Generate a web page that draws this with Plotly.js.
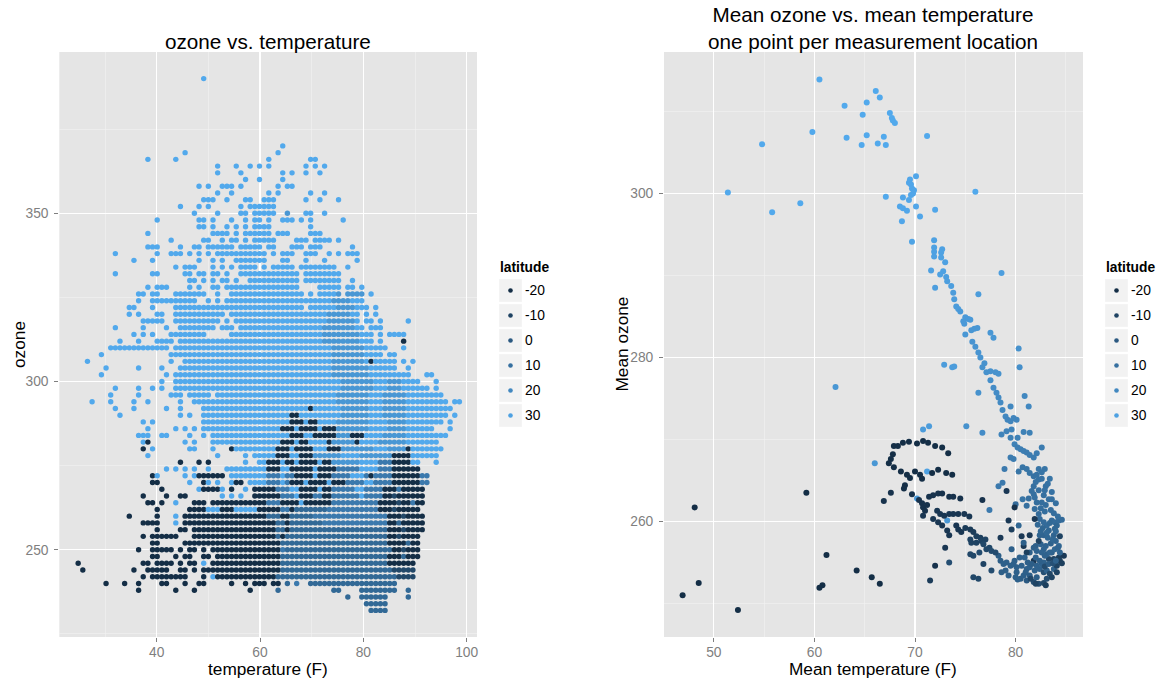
<!DOCTYPE html>
<html>
<head>
<meta charset="utf-8">
<script src="https://cdn.plot.ly/plotly-3.0.1.min.js"></script>
<style>html,body{margin:0;padding:0;background:#fff}#chart{width:1156px;height:683px}</style>
</head>
<body>
<div id="chart"></div>
<script>
// ---------- Left panel: ozone vs temperature (grid of observations) ----------
// temperature grid (°F) of the observation columns
const tempGrid = [24.8,25.7,26.6,27.5,28.4,29.3,30.2,31.1,32.0,32.9,33.8,34.7,35.6,36.5,37.4,38.3,39.2,40.1,41.0,41.9,42.8,43.7,44.6,45.5,46.4,47.3,48.2,49.1,50.0,50.9,51.8,52.7,53.6,54.5,55.4,56.3,57.2,58.1,59.0,59.9,60.8,61.7,62.6,63.5,64.4,65.3,66.2,67.1,68.0,68.9,69.8,70.7,71.6,72.5,73.4,74.3,75.2,76.1,77.0,77.9,78.8,79.7,80.6,81.5,82.4,83.3,84.2,85.1,86.0,86.9,87.8,88.7,89.6,90.5,91.4,92.3,93.2,94.1,95.0,95.9,96.8,97.7,98.6];
// latitude codes used in the row runs
const latCodes = ['a','b','c','d','e','f'];
const latValues = [33, 26, 14, 7, -8, -20];
// ozone level of each row
const ozoneLevels = [390,370,368,366,364,362,360,358,356,354,352,350,348,346,344,342,340,338,336,334,332,330,328,326,324,322,320,318,316,314,312,310,308,306,304,302,300,298,296,294,292,290,288,286,284,282,280,278,276,274,272,270,268,266,264,262,260,258,256,254,252,250,248,246,244,242,240,238,236,234,232];
// runs of observed points in each row: column index (range) + latitude code
const rowRuns = [
"27a",
"44a",
"23a 43a",
"15a 21a 41a 50-51a",
"30a 34a 37a 39a 41a 49a 51a 53a",
"30a 35a 44a 46a 49a 52a",
"36a 39a 44a",
"26a 28a 31-33a 35a 43a 45-46a",
"30a 33a 41a 43a 50a 53a",
"27-29a 32a 36-37a 40-42a 49a 52a 56a",
"22a 26a 28a 35a 37-42a",
"25a 30a 35-36a 38-42a 45b 49-50a 53a",
"17a 26-27a 29a 33a 36a 38-39a 41a 44-46a 48a 50a 57a",
"26-27a 29a 32a 34a 36a 38-41a 50a",
"15a 29-32a 34a 36-41a 43-45a 50-52a",
"20a 27-28a 31a 33-34a 36a 38-42a 47-49a 51-54a 56a",
"15-17a 22a 25-26a 28-33a 35-39a 41-42a 46-48a 50-52a 59a",
"8a 17a 20-22a 24a 26a 28a 30-40a 42a 44-46a 49-51a 54a 56a 58-60a",
"12a 16a 26a 29a 31a 34-40a 44-45a 49a 53a 60a",
"21a 23-25a 29a 31a 33a 35-38a 40a 42-46a 48-55a 58a",
"8a 16-17a 23-24a 26-27a 29-30a 32a 35-47a 49-56a",
"24-25a 27a 29a 31-32a 34a 37-47a 49-56a 59a",
"15a 17-19a 24a 26a 29-30a 32-47a 52-56a 58-59a 61a",
"13-14a 16-17a 21-27a 30a 33-48a 50a 52-55a 56b 58-61b 63a",
"13a 16-25a 28a 30a 32-54a 55-58b 59-61a",
"11-12a 16a 21-48a 50-55a 56-59b 60-61a 62a 64a",
"11a 13a 17-18a 21-31a 33-53a 54-58b 59-60a 62a 64a",
"14-18a 21-30a 32a 34-53a 54-59b 60a 62-63a 65a 71a",
"8a 14a 19a 22-29a 31-33a 35-52a 53-59b 60-61a 63-65a",
"12a 14a 16a 20-27a 33-52a 53-60b 61-63a 65a 67-70a",
"9a 13a 17-20a 22-52a 53-60b 61-63a 65a 70f",
"7-19a 21-54a 55-61b 62-66a 70a",
"5a 20-54a 55-61b 62-65a 67-68a",
"2a 20a 23-54a 55-61b 62a 63f 64-68a 70a 72a",
"6a 13a 18a 22-54a 55-62b 63-68a 71a",
"5a 19a 21-54a 55-62b 63-71a 75-76a",
"18a 21-56a 57-63b 64-66a 67-69b 70-73a 77a",
"8a 13a 16a 18a 21-56a 57-63b 64-66a 67-69b 70-75a 77a",
"7a 13a 20-22a 24-28a 30-55a 56-62b 63-65a 66-70b 71-78a",
"3a 7a 12a 15a 22a 25-55a 56-62b 63-65a 66-70b 71-79a 81-82a",
"8a 12a 19a 22a 27-49a 50f 51-56a 57-62b 63-65a 66-70b 71-79a 80a",
"9a 22a 24a 27-45a 46-47f 48-56a 57-62b 63-65a 66-70b 71-79a 81a",
"14a 16a 27-45a 46-48f 49a 50-51f 52-55a 56-62b 63-66a 67-70b 71-78a 80a",
"15a 21a 23a 25a 27-43a 44-46f 47a 48-51f 52a 53-55f 56-62b 63-66a 67-70b 71-76a 80a",
"13-15a 18-19a 24a 27a 29-45a 46-48f 49-50a 51-55f 56-58b 59-61f 62-65a 66-70b 71-79a",
"14a 15f 23a 25a 29-43a 44-46f 47a 48-49f 50-53a 54f 55-59b 60f 61-64a 65-70b 71-77a",
"14f 16a 24-25a 29a 33f 34-42a 43-45f 46a 47-50f 51-53a 54-56f 57-63b 64-66a 67-70b 71f 72-78a",
"15a 30a 36a 38-42a 43-45f 46-47a 48-50f 51-56b 57-60a 61-67b 68-71f 72-77a",
"22f 26f 28f 36a 39-40a 41-43f 44a 45-46f 47a 48-51f 52a 53-54f 55-60b 61-64a 65-67c 68-71f 72-73a 77a",
"19a 21a 23a 25a 28a 32-33a 34-40a 41-43f 44-45a 46-50f 51a 52-55f 56-60c 61-64a 65-67c 68-73f",
"16f 17a 23a 25a 26-31f 33-35a 36-40a 41-43c 44a 45-46c 47-50f 51a 52-54f 55-58c 59-61a 62c 63f 64-67c 68-73f 74-75c",
"16-17f 24a 27f 28a 30a 33a 34-35f 37-40a 41-43c 44a 45c 46-48f 49a 50-53f 54a 55-57f 58-61c 62-63a 64-67c 68-73f 74-75c",
"18f 26a 27-30f 31a 33f 36a 38-42f 43-45c 46-47a 48-51f 52a 53-54f 55-59c 60-61a 62-65c 66-68f 69c 70-74f",
"14f 19f 22-23f 31a 33a 35a 38-43f 44-46c 47a 48-50f 51-52c 53-54f 55-60c 61a 62-65c 66-67f 68e 69-74f",
"15-16f 18f 21a 25-27f 29-40f 41-43c 44-47f 48a 49-54f 55-64c 65-68f 69e 70-71f 72c 73-74f",
"17f 24-27f 28-30a 31-33f 34-38a 39-43f 44-45c 46f 47-53d 54-64c 65-67f 68e 69-73f",
"11f 17f 21a 23-40f 41-43d 44-45f 46-50d 51-66c 67-69f 70e 71-74f",
"14-17f 21a 23f 24-42f 43-44d 45f 46-52d 53-66c 67-68f 69d 70-74f",
"17f 22-23f 25-42f 43-44d 45f 46-66d 67-69f 70e 71-74f",
"14f 16-21f 25-42f 43d 44f 45-66d 67-68f 69e 70-73f",
"16-17f 23-43f 44-66d 67-70f 71d 72-73f",
"13f 16-20f 22f 24-25f 27f 29-43f 44c 45-67d 68-69f 70e 71-73f",
"16-17f 21f 23-24f 27-28f 30-43f 44-66d 67-69f 70d 71-73f",
"0f 14-15f 17-20f 22f 24-25f 27a 29-43f 44-66d 67-72f",
"1f 12f 15-19f 22-23f 25f 27-43f 44-67d 68-72e",
"14f 16-23f 27f 29a 30-42f 43-68d 69-72e",
"6f 10f 13f 18-19f 23f 26-27f 33f 36f 38-40f 42-43f 45d 47c 50-68d",
"13f 21f 25f 37f 43d 55-56d 61-68d 71d",
"58d 61-66d 71d",
"62-66d",
"63-66d"
];

// ---------- Right panel: one point per measurement location ----------
const meanTemp = [
// high-ozone northern locations
60.5,66.1,66.5,63.0,65.2,64.8,67.5,67.7,67.8,68.0,59.8,54.8,63.2,65.2,64.7,66.3,66.9,67.1,71.2,51.4,58.6,55.8,67.1,76.0,
// descending trail
70.1,69.5,69.4,69.6,69.7,69.9,69.8,69.6,68.8,69.4,68.5,68.8,69.2,70.1,70.5,72.0,68.7,69.7,71.9,71.9,71.9,72.7,72.6,71.9,72.6,73.0,71.6,72.8,72.5,73.1,73.2,72.0,73.6,78.6,73.8,73.9,76.3,74.1,74.3,74.5,75.0,75.3,74.8,74.9,75.5,75.0,75.6,75.9,76.2,77.5,77.8,75.7,76.0,76.3,76.5,72.9,73.7,73.9,76.9,76.7,77.1,77.5,78.0,78.3,77.5,80.3,80.4,
// curve middle
77.8,78.1,78.3,78.5,78.7,79.0,79.2,79.5,79.8,80.1,79.6,79.1,78.6,79.5,79.9,80.2,80.5,80.8,81.1,81.4,81.8,82.1,82.6,81.4,80.8,80.2,79.8,79.5,76.3,80.9,81.3,79.5,76.7,75.1,71.4,70.8,66.0,78.9,78.3,78.7,77.4,71.2,70.2,73.2,62.1,
// curve lower part
80.7,80.3,81.1,81.4,81.8,82.1,82.3,82.6,82.9,82.3,81.8,83.0,81.6,81.8,81.9,82.1,81.9,82.3,82.4,82.8,83.1,83.6,83.9,84.1,84.3,83.3,82.4,82.8,83.6,83.3,82.6,80.7,81.1,80.0,80.3,83.9,83.8,
82.0,82.5,83.0,83.5,84.0,83.2,82.7,83.4,82.2,83.8,82.9,82.5,83.0,82.8,82.3,83.2,82.0,82.6,81.3,
// dense tropical cluster
78.3,78.5,78.8,79.1,79.5,79.8,80.1,80.6,81.1,81.4,81.9,82.4,82.8,83.1,83.4,83.8,84.1,79.3,80.0,80.5,81.1,81.8,82.3,82.8,83.1,83.6,80.8,81.4,79.0,78.6,80.1,82.1,82.6,83.3,83.8,84.3,84.8,84.4,84.1,83.6,83.1,82.8,82.3,81.8,81.4,81.1,82.1,82.6,82.9,83.4,83.9,84.4,84.3,82.8,82.1,81.8,80.8,80.6,80.8,79.6,79.6,79.3,79.1,78.5,81.9,79.9,81.4,73.4,
80.9,81.2,81.6,82.0,82.4,82.9,83.3,83.7,84.0,84.6,84.2,83.7,83.1,82.5,84.0,84.4,84.6,84.2,83.5,84.0,83.6,82.9,83.4,81.5,82.0,80.2,79.9,80.4,81.0,83.0,
// southern arcs
67.9,68.3,68.8,69.4,70.2,70.8,71.3,72.0,72.7,73.3,67.8,67.6,67.4,67.9,68.6,69.2,70.0,70.5,70.7,71.7,72.3,73.1,73.7,69.5,69.0,68.9,
69.7,70.4,70.7,70.8,71.0,71.2,71.4,71.8,72.3,72.7,73.4,73.8,74.5,66.9,67.6,76.7,
70.8,71.8,72.2,72.5,72.9,73.4,73.8,74.3,74.9,75.4,72.3,72.7,73.2,73.4,74.1,74.3,74.6,75.0,75.5,75.8,76.1,76.5,75.5,75.6,76.1,76.6,77.0,76.8,77.1,77.4,77.6,78.0,73.0,72.0,71.5,75.8,76.3,75.5,75.8,76.4,76.8,77.6,
// cold southern outliers
46.9,48.1,48.5,52.4,59.2,61.2,60.5,60.8,64.2,65.7,66.5
];
const meanOzone = [
313.9,312.5,311.7,310.7,311.1,309.6,309.8,309.2,308.9,308.6,307.5,306.0,306.8,307.1,305.9,306.1,306.9,305.9,307.0,300.1,298.8,297.7,299.6,300.2,
302.1,301.7,301.3,301.1,300.6,300.4,300.0,299.8,299.5,299.2,298.4,298.2,297.9,298.4,297.2,298.0,296.6,294.1,294.3,293.4,292.9,293.2,292.8,292.3,292.2,291.6,290.6,290.5,290.1,289.8,289.3,288.5,288.7,290.3,287.9,287.1,287.7,286.2,285.9,285.6,284.9,284.7,284.4,284.1,284.6,282.8,283.3,283.5,283.6,283.0,282.4,281.9,281.3,280.6,280.0,279.1,278.8,278.9,279.3,278.8,278.2,278.3,278.2,278.0,277.2,281.1,278.8,
276.3,275.7,275.1,274.5,273.6,272.8,272.4,272.2,272.6,272.4,271.2,271.0,270.6,270.2,269.4,269.0,268.8,268.6,268.4,268.1,267.8,268.3,269.0,270.8,270.9,270.2,267.6,267.8,275.7,275.3,274.0,274.0,270.8,271.6,271.6,271.2,267.1,266.4,264.3,264.7,261.4,266.1,262.8,260.1,276.4,
266.6,266.1,266.4,265.9,265.5,265.7,265.1,265.2,266.4,266.4,264.3,264.3,263.7,263.3,262.9,262.3,261.5,260.9,260.3,259.9,259.5,260.1,259.9,259.5,260.1,258.9,258.3,258.3,262.7,262.7,262.3,262.7,261.9,262.1,259.5,259.1,258.3,
257.0,257.2,257.0,257.3,257.6,258.0,259.2,259.8,259.6,261.0,261.2,261.6,262.0,263.2,263.8,264.6,264.8,266.0,262.8,
255.8,255.2,254.8,255.0,254.6,254.8,254.4,254.6,254.2,254.4,254.0,254.2,253.8,254.0,253.6,254.2,253.8,253.4,253.2,253.0,252.8,252.6,252.4,252.5,253.0,253.2,253.4,253.4,254.0,253.8,253.8,253.2,254.8,255.4,255.4,255.6,255.8,255.2,254.6,256.2,256.0,256.6,257.6,256.8,256.2,256.2,256.4,256.2,255.8,256.2,256.6,256.2,257.0,255.0,254.6,255.2,257.0,258.2,257.4,256.6,259.0,260.1,263.7,258.0,260.3,261.7,258.3,255.0,
255.6,255.0,254.8,255.6,255.2,254.5,254.8,254.9,255.2,254.9,256.8,257.8,258.6,258.8,258.8,258.2,260.2,260.6,261.4,262.2,263.6,263.8,265.2,253.0,252.4,252.9,255.2,255.6,253.8,252.2,
269.2,269.2,269.6,269.7,269.5,269.8,269.6,269.2,269.0,268.3,268.2,267.6,267.1,266.6,266.1,265.7,266.1,265.7,265.2,265.9,266.3,265.9,265.7,265.3,264.4,264.0,
263.3,262.6,262.2,261.7,261.3,262.0,263.0,263.2,263.4,263.4,263.0,263.0,262.8,262.5,263.5,262.6,
260.7,260.3,261.3,260.9,260.7,260.9,260.9,260.9,260.9,260.6,259.9,259.5,258.9,258.3,259.5,259.0,258.7,259.2,259.0,258.7,258.2,258.0,257.8,257.4,257.4,257.6,257.8,257.2,256.6,256.8,256.4,256.2,256.8,254.6,252.8,253.2,253.0,256.0,255.8,256.2,254.8,254.0,
251.0,261.7,252.5,249.2,263.5,255.9,251.9,252.2,254.0,253.2,252.4
];
const meanLat = [
33,33,33,33,33,33,33,33,33,33,33,33,33,33,33,33,33,33,33,33,33,33,33,33,
32,32,32,32,32,32,32,32,32,32,32,32,32,32,32,32,32,31,30,30,30,30,30,30,30,30,30,30,30,29,29,29,29,29,28,28,28,28,28,27,27,27,27,27,27,26,26,26,26,26,26,25,25,25,25,28,28,28,24,24,24,24,24,24,23,24,23,
22,22,21,21,20,20,19,19,19,19,18,18,18,17,17,16,16,16,15,15,15,15,15,17,17,17,15,15,24,20,20,20,22,24,28,28,26,14,14,14,14,30,28,26,26,
12,12,12,12,11,11,11,11,12,12,10,10,10,10,10,9,9,8,8,8,8,8,8,6,8,6,5,5,10,10,9,12,10,8,6,6,5,
3,5,5,4,5,6,6,7,7,9,9,9,9,10,10,11,11,12,10,
2,2,3,3,3,3,3,4,4,4,4,4,-5,4,-8,4,-10,3,3,2,0,-5,-5,-8,-5,-10,3,2,3,2,3,2,4,-8,-10,-12,-15,-12,-10,3,4,5,-10,3,3,-12,5,5,4,5,6,5,6,4,4,-15,-15,-15,3,3,-12,-15,-15,-15,-15,-18,-15,-5,
4,3,2,4,3,-6,2,-4,4,-12,5,6,7,6,7,-10,8,9,9,10,11,11,12,-8,-10,3,3,4,3,-12,
-20,-20,-20,-20,-20,-20,-20,-20,-20,-20,-20,-20,-20,-20,-20,-20,-20,-20,-20,-20,-20,-20,-20,-20,-20,-20,
-18,-18,-18,-18,-18,-18,-18,-18,-18,-18,-18,-18,-18,-18,-18,-18,
-16,-16,-16,-16,-16,-16,-16,-16,-16,-16,-16,-16,-16,-16,-16,-16,-16,-14,-14,-14,-12,-12,-10,-10,-10,-10,-10,-8,-8,-8,-6,-6,-16,-18,-14,-8,-8,-8,-8,-6,-10,-6,
-20,-20,-20,-20,-20,-20,-20,-20,-20,-20,-20
];

// legend breaks
const latBreaks = [-20, -10, 0, 10, 20, 30];

// ---------- build ----------
const leftT = [], leftO = [], leftLat = [];
ozoneLevels.forEach((oz, i) => {
  rowRuns[i].trim().split(/\s+/).forEach(tok => {
    const m = tok.match(/^(\d+)(?:-(\d+))?([a-f])$/);
    if (!m) return;
    const k0 = +m[1], k1 = m[2] ? +m[2] : k0;
    const lat = latValues[latCodes.indexOf(m[3])];
    for (let k = k0; k <= k1; k++) { leftT.push(tempGrid[k]); leftO.push(oz); leftLat.push(lat); }
  });
});

const FONT = 'Liberation Sans, Arial, Helvetica, sans-serif';
const CS = [[0,'#132B43'],[0.25,'#234A6C'],[0.5,'#336A98'],[0.75,'#448CC6'],[1,'#56B1F7']];
const LATMIN = -21.2, LATMAX = 36.2;
const tickFont = {family: FONT, size: 13.8, color: '#7F7F7F'};
const legLabels = latBreaks.map(String);

const traces = [
  {type:'scatter', mode:'markers', x:leftT, y:leftO, xaxis:'x', yaxis:'y', showlegend:false, hoverinfo:'skip',
   marker:{size:5.4, color:leftLat, colorscale:CS, cmin:LATMIN, cmax:LATMAX, showscale:false, line:{width:0}}},
  {type:'scatter', mode:'markers', x:meanTemp, y:meanOzone, xaxis:'x2', yaxis:'y2', showlegend:false, hoverinfo:'skip',
   marker:{size:6, color:meanLat, colorscale:CS, cmin:LATMIN, cmax:LATMAX, showscale:false, line:{width:0}}}
];
[['x3','y3'],['x4','y4']].forEach(([xa,ya]) => {
  traces.push({type:'scatter', mode:'markers', x:latBreaks.map(()=>0), y:legLabels, xaxis:xa, yaxis:ya, showlegend:false, hoverinfo:'skip',
    marker:{symbol:'square', size:22.7, color:'#F2F2F2', line:{width:0}}});
  traces.push({type:'scatter', mode:'markers', x:latBreaks.map(()=>0), y:legLabels, xaxis:xa, yaxis:ya, showlegend:false, hoverinfo:'skip',
    marker:{size:4.6, color:latBreaks, colorscale:CS, cmin:LATMIN, cmax:LATMAX, showscale:false, line:{width:0}}});
});

const W = 1156, H = 683;
const px = v => v / W, py = v => (H - v) / H;
const yDom = [py(637), py(52)];

function dataAxis(domain, range, dtick, minorDtick, anchor, standoff) {
  return {domain, range, anchor, tick0:0, dtick, ticks:'outside', ticklen:4, tickwidth:1, tickcolor:'#7F7F7F',
    tickfont:tickFont, showgrid:true, gridcolor:'#FFFFFF', gridwidth:1.3, zeroline:false, showline:false,
    ticklabelstandoff:standoff, fixedrange:true,
    minor:{tick0:0, dtick:minorDtick, showgrid:true, gridcolor:'#F2F2F2', gridwidth:0.6, ticks:''}};
}
function legAxes(x0, x1, anchorX, anchorY) {
  return [
    {domain:[px(x0), px(x1)], range:[-1,1], visible:false, anchor:anchorY, fixedrange:true},
    {domain:[py(428), py(278)], type:'category', categoryorder:'array', categoryarray:legLabels, range:[5.5,-0.5],
     anchor:anchorX, side:'right', showgrid:false, zeroline:false, showline:false, ticks:'',
     tickfont:{family:FONT, size:13.8, color:'#000000'}, ticklabelstandoff:2, fixedrange:true}
  ];
}
const [lx3, ly3] = legAxes(499, 522, 'x3', 'y3');
const [lx4, ly4] = legAxes(1105, 1128, 'x4', 'y4');

const ann = (text, x, y, size, extra) => Object.assign({text, x:px(x), y:py(y), xref:'paper', yref:'paper', showarrow:false,
  xanchor:'center', yanchor:'middle', font:{family:FONT, size, color:'#000000'}}, extra || {});

const layout = {
  width:W, height:H, autosize:false, margin:{l:0, r:0, t:0, b:0},
  paper_bgcolor:'#FFFFFF', plot_bgcolor:'rgba(0,0,0,0)', showlegend:false, hovermode:false,
  xaxis: dataAxis([px(59.3), px(477)], [21.15, 102.0], 20, 10, 'y', -2),
  yaxis: dataAxis(yDom, [224.1, 397.9], 50, 25, 'x', 3),
  xaxis2: dataAxis([px(664), px(1083)], [45.05, 86.7], 10, 5, 'y2', -2),
  yaxis2: dataAxis(yDom, [245.9, 317.25], 20, 10, 'x2', 3),
  xaxis3: lx3, yaxis3: ly3, xaxis4: lx4, yaxis4: ly4,
  shapes: [
    {type:'rect', xref:'x domain', yref:'y domain', x0:0, x1:1, y0:0, y1:1, fillcolor:'#E5E5E5', line:{width:0}, layer:'below'},
    {type:'rect', xref:'x2 domain', yref:'y2 domain', x0:0, x1:1, y0:0, y1:1, fillcolor:'#E5E5E5', line:{width:0}, layer:'below'}
  ],
  annotations: [
    ann('ozone vs. temperature', 268, 41, 20.7),
    ann('Mean ozone vs. mean temperature<br>one point per measurement location', 873.5, 27.5, 20.7),
    ann('temperature (F)', 268, 669, 17.25),
    ann('ozone', 18.5, 344.5, 17.25, {textangle:-90}),
    ann('Mean temperature (F)', 873.5, 669, 17.25),
    ann('Mean ozone', 621, 344.5, 17.25, {textangle:-90}),
    ann('<b>latitude</b>', 498.3, 267.3, 13.8, {xanchor:'left'}),
    ann('<b>latitude</b>', 1104.3, 267.3, 13.8, {xanchor:'left'})
  ]
};

Plotly.newPlot('chart', traces, layout, {staticPlot:true, displayModeBar:false});
</script>
</body>
</html>
